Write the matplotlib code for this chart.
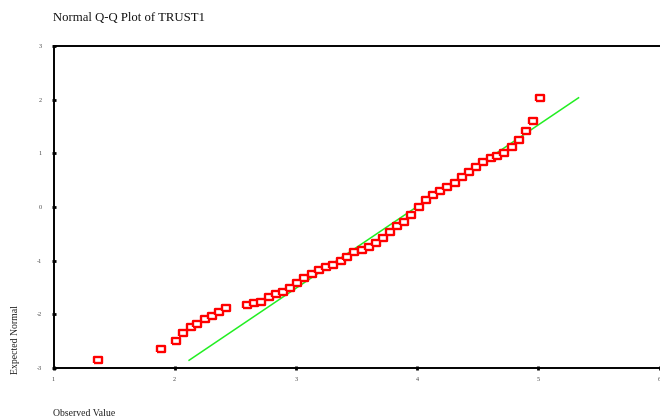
import matplotlib
matplotlib.use("Agg")
import matplotlib.pyplot as plt
import numpy as np

plt.rcParams['axes.unicode_minus'] = False

observed = [1.365, 1.884, 2.008, 2.070, 2.133, 2.184, 2.246, 2.304, 2.367, 2.421,
            2.599, 2.655, 2.716, 2.776, 2.837, 2.891, 2.950, 3.010, 3.070, 3.134,
            3.193, 3.252, 3.309, 3.370, 3.422, 3.482, 3.543, 3.606, 3.661, 3.719,
            3.776, 3.837, 3.892, 3.952, 4.013, 4.073, 4.135, 4.189, 4.249, 4.313,
            4.373, 4.428, 4.486, 4.544, 4.606, 4.661, 4.719, 4.781, 4.843, 4.897,
            4.954, 5.017]
expected = [-2.856, -2.640, -2.491, -2.342, -2.232, -2.171, -2.083, -2.025, -1.956, -1.878,
            -1.830, -1.787, -1.764, -1.679, -1.615, -1.576, -1.515, -1.407, -1.332, -1.248,
            -1.170, -1.110, -1.081, -1.015, -0.932, -0.842, -0.792, -0.740, -0.676, -0.572,
            -0.466, -0.360, -0.274, -0.143, 0.006, 0.130, 0.220, 0.307, 0.367, 0.456,
            0.565, 0.661, 0.751, 0.838, 0.904, 0.947, 1.012, 1.122, 1.243, 1.412,
            1.608, 2.035]

# Reference line parameters (normal mean and sd)
line_mean = 3.995
line_sd = 0.657

x_ticks = [1, 2, 3, 4, 5, 6]
y_ticks = [-3, -2, -1, 0, 1, 2, 3]

title = "Normal Q-Q Plot of TRUST1"
xlabel = "Observed Value"
ylabel = "Expected Normal"

fig = plt.figure(figsize=(6.6, 4.19), dpi=100)
ax = fig.add_axes([53.5 / 660, 1 - 368 / 419, (659.5 - 53.5) / 660, (368 - 46) / 419])

serif = ['Liberation Serif', 'DejaVu Serif']

# reference line across the range of expected values
y_line = np.array([min(expected), max(expected)])
x_line = line_mean + y_line * line_sd
ax.plot(x_line, y_line, color='#22ee22', lw=1.1, zorder=2)

rect = [(-1.2, -1), (1.2, -1), (1.2, 1), (-1.2, 1), (-1.2, -1)]
ax.plot(observed, expected, linestyle='none', marker=rect, markersize=5.2,
        markerfacecolor='white', markeredgecolor='#ff0000', markeredgewidth=1.7, zorder=3)

ax.set_xlim(1, 6)
ax.set_ylim(-3, 3)
ax.set_xticks(x_ticks)
ax.set_yticks(y_ticks)
ax.set_xticklabels([str(t) for t in x_ticks])
ax.set_yticklabels([str(t) for t in y_ticks])

for s in ['left', 'bottom', 'top']:
    ax.spines[s].set_linewidth(1.4)
    ax.spines[s].set_color('black')
ax.spines['right'].set_visible(False)

ax.tick_params(axis='both', direction='inout', length=3, width=2, color='black',
               labelsize=4.5, labelcolor='#444444')
ax.tick_params(axis='x', pad=5)
ax.tick_params(axis='y', pad=7)
for lab in ax.get_xticklabels() + ax.get_yticklabels():
    lab.set_family(serif)

fig.text(53 / 660, 1 - 18 / 419, title, fontsize=9.2, family=serif,
         ha='left', va='center', color='#111111')
fig.text(15 / 660, 1 - 339 / 419, ylabel, fontsize=7, family=serif,
         rotation=90, ha='center', va='center', color='#222222')
fig.text(53 / 660, 1 - 413 / 419, xlabel, fontsize=7, family=serif,
         ha='left', va='center', color='#222222')

fig.savefig('out.png', dpi=100)
